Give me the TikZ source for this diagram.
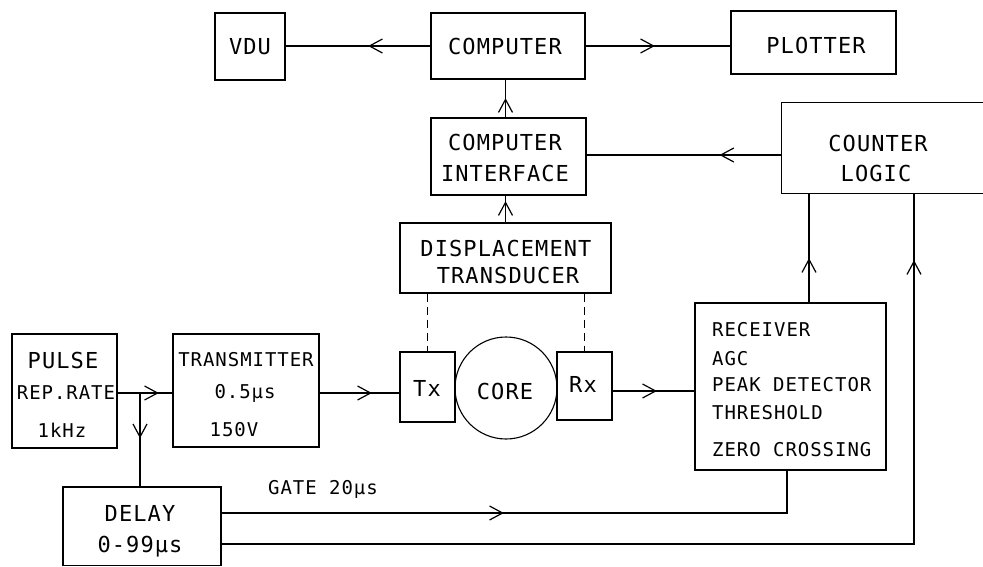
\documentclass[tikz,border=0pt]{standalone}
\usepackage{fontspec}
\newfontfamily\pf[LetterSpace=5]{DejaVu Sans Mono}
\usetikzlibrary{decorations.markings}
\tikzset{
  box/.style={draw, line width=1.1pt, inner sep=0pt},
  big/.style={font=\pf\fontsize{22}{26}\selectfont, inner sep=0pt},
  small/.style={font=\pf\fontsize{19}{23}\selectfont, inner sep=0pt},
  wire/.style={line width=1.1pt},
  dashwire/.style={line width=1.1pt, dash pattern=on 8pt off 5pt},
  arrowat/.style={postaction={decorate}, decoration={markings,
     mark=at position #1 with {\draw[line width=1.2pt, solid] (-13pt,7pt) -- (0pt,0pt) -- (-13pt,-7pt);}}},
}
\begin{document}
\begin{tikzpicture}[x=1pt,y=-1pt]
\useasboundingbox (0,0) rectangle (983,567);
% boxes
\node[box, minimum width=70, minimum height=67] (vdu) at (250,46.5) {};
\node[box, minimum width=154, minimum height=66] (comp) at (508,46) {};
\node[box, minimum width=165, minimum height=63] (plot) at (813.5,42.5) {};
\node[box, minimum width=155, minimum height=77] (iface) at (508.5,156.5) {};
\node[inner sep=0pt, minimum width=202, minimum height=90] (counter) at (883,148) {};
\draw[wire] (counter.north east) -- (counter.north west) -- (counter.south west) -- (counter.south east);
\node[box, minimum width=211, minimum height=70] (disp) at (505.5,258) {};
\node[box, minimum width=55, minimum height=70] (tx) at (427.5,387) {};
\node[box, minimum width=55, minimum height=68] (rx) at (584.5,386) {};
\node[box, circle, minimum size=102] (core) at (506,388) {};
\node[box, minimum width=105, minimum height=114] (pulse) at (64.5,391) {};
\node[box, minimum width=146, minimum height=113] (trans) at (246,390.5) {};
\node[box, minimum width=191, minimum height=167] (recv) at (790.5,386.5) {};
\node[box, minimum width=158, minimum height=78.5] (delay) at (142,526.25) {};
% texts
\node[big] (vdut) at (250,47) {VDU};
\node[big] (compt) at (505,46.5) {COMPUTER};
\node[big] (plott) at (816,45) {PLOTTER};
\node[big] (ifacet1) at (505,142) {COMPUTER};
\node[big] (ifacet2) at (505,173) {INTERFACE};
\node[big] (countert1) at (878,143) {COUNTER};
\node[big] (countert2) at (876,173) {LOGIC};
\node[big] (dispt1) at (506,248) {DISPLACEMENT};
\node[big] (dispt2) at (508,275) {TRANSDUCER};
\node[big] (txt) at (427,388) {Tx};
\node[big] (rxt) at (583,384) {Rx};
\node[big] (coret) at (505,391) {CORE};
\node[big] (pulset1) at (63,360) {PULSE};
\node[small] (pulset2) at (66,393) {REP.RATE};
\node[small] (pulset3) at (62,430) {1kHz};
\node[small] (transt1) at (246,360) {TRANSMITTER};
\node[small] (transt2) at (245,393) {0.5μs};
\node[small] (transt3) at (234,430) {150V};
\node[small, anchor=west] (recvt1) at (712,330) {RECEIVER};
\node[small, anchor=west] (recvt2) at (712,359) {AGC};
\node[small, anchor=west] (recvt3) at (712,385) {PEAK DETECTOR};
\node[small, anchor=west] (recvt4) at (712,413) {THRESHOLD};
\node[small, anchor=west] (recvt5) at (712,450) {ZERO CROSSING};
\node[big] (delayt1) at (140,513) {DELAY};
\node[big] (delayt2) at (140,547) {0-99μs};
\node[small] (gatet) at (323,489) {GATE 20μs};
% helper coordinates
\coordinate (cw) at ([yshift=-7pt]counter.west);
\coordinate (br) at (140,393);
\coordinate (yrx) at (0,391);
\coordinate (yg) at (0,513);
\coordinate (yd) at (0,544);
\coordinate (rb) at ([xshift=-3.5pt]recv.south);
\coordinate (rt) at ([xshift=18.5pt]recv.north);
\coordinate (cb) at ([xshift=31pt]counter.south);
% connectors
\draw[wire, arrowat=61pt] (comp.west) -- (comp.west -| vdu.east);
\draw[wire, arrowat=68pt] (comp.east) -- (comp.east -| plot.west);
\draw[wire, arrowat=18pt] (disp.north |- iface.north) -- (disp.north |- comp.south);
\draw[wire, arrowat=20pt] (disp.north) -- (disp.north |- iface.south);
\draw[wire, arrowat=61pt] (cw) -- (cw -| iface.east);
\draw[dashwire] (tx.north |- disp.south) -- (tx.north);
\draw[dashwire] (rx.north |- disp.south) -- (rx.north);
\draw[wire, arrowat=40pt] (pulse.east |- br) -- (br -| trans.west);
\draw[wire, arrowat=44pt] (br) -- (br |- delay.north);
\draw[wire, arrowat=51pt] (trans.east |- br) -- (br -| tx.west);
\draw[wire, arrowat=43pt] (rx.east |- yrx) -- (yrx -| recv.west);
\draw[wire, arrowat=43pt] (rt) -- (rt |- counter.south);
\draw[wire, arrowat=281pt] (delay.east |- yg) -- (yg -| rb) -- (rb);
\draw[wire, arrowat=975pt] (delay.east |- yd) -- (yd -| cb) -- (cb);
\end{tikzpicture}
\end{document}
